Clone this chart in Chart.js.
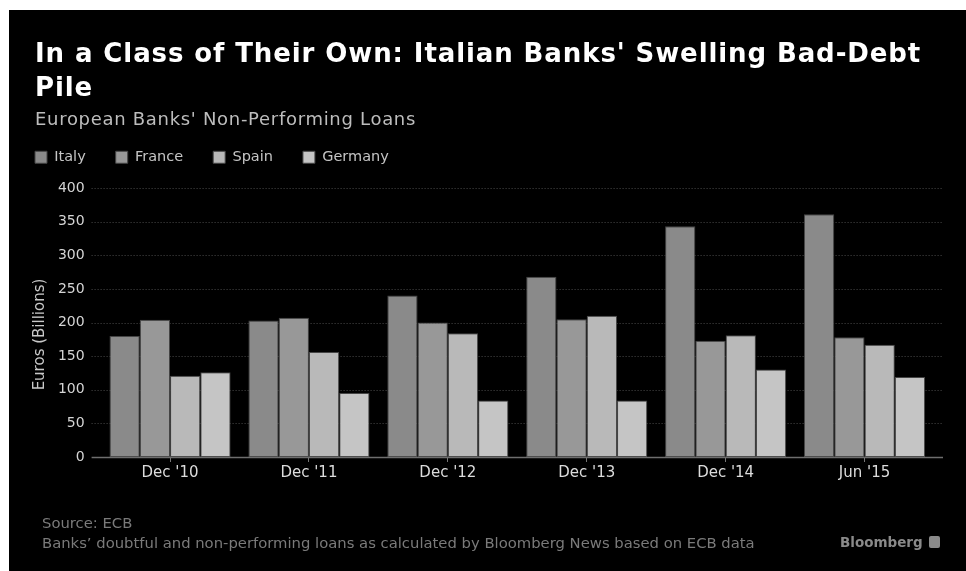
<!DOCTYPE html>
<html>
<head>
<meta charset="utf-8">
<script src="https://cdn.jsdelivr.net/npm/chart.js@4.4.1/dist/chart.umd.min.js"></script>
<style>
  html, body { margin: 0; padding: 0; background: #fff; }
  #wrap { position: relative; width: 966px; height: 571px; overflow: hidden; }
  #panel { position: absolute; left: 9px; top: 10px; right: 0; bottom: 0; background: #000; }
  #chart { position: absolute; left: 0; top: 0; }
  .txt { position: absolute; white-space: nowrap; font-family: "DejaVu Sans", sans-serif; }
  #title { left: 35px; top: 36px; font-size: 26px; font-weight: bold; color: #fff; line-height: 34px; letter-spacing: 0.9px; }
  #subtitle { left: 35px; top: 108px; font-size: 18px; color: #bdbdbd; line-height: 22px; letter-spacing: 0.7px; }
  #source { left: 42px; top: 513px; font-size: 14.8px; color: #7a7a7a; line-height: 20px; }
  #brand { left: 840px; top: 533px; font-size: 13.5px; font-weight: bold; color: #8a8a8a; line-height: 18px; }
  #brand span { display: inline-block; width: 11px; height: 12px; background: #8a8a8a; margin-left: 6px; vertical-align: -1px; border-radius: 2px; }
</style>
</head>
<body>
<div id="wrap">
  <div id="panel"></div>
  <canvas id="chart" width="966" height="571"></canvas>
  <div class="txt" id="title">In a Class of Their Own: Italian Banks' Swelling Bad-Debt<br>Pile</div>
  <div class="txt" id="subtitle">European Banks' Non-Performing Loans</div>
  <div class="txt" id="source">Source: ECB<br>Banks’ doubtful and non-performing loans as calculated by Bloomberg News based on ECB data</div>
  <div class="txt" id="brand">Bloomberg<span></span></div>
</div>
<script>
// Non-performing loans, billions of euros
const categories = ["Dec '10", "Dec '11", "Dec '12", "Dec '13", "Dec '14", "Jun '15"];
const italy   = [180, 203, 240, 268, 343, 361];
const france  = [204, 207, 200, 205, 173, 178];
const spain   = [121, 156, 184, 210, 181, 167];
const germany = [126,  95,  84,  84, 130, 119];
const yTicks  = [0, 50, 100, 150, 200, 250, 300, 350, 400];
const yTitle  = "Euros (Billions)";

const FONT = '"DejaVu Sans", sans-serif';

// Fixed legend height so the plot starts below it at a set distance
const legendHeight = {
  id: 'legendHeight',
  afterInit(chart) {
    const lg = chart.legend;
    if (!lg) return;
    const fit = lg.fit.bind(lg);
    lg.fit = function () { fit(); this.height = 68; };
  }
};

// Dotted grid, baseline and rotated axis title
const gridAndTitle = {
  id: 'gridAndTitle',
  beforeDatasetsDraw(chart) {
    const { ctx, chartArea, scales } = chart;
    const y = scales.y;
    const x0 = chartArea.left - 9, x1 = chartArea.right + 9;
    ctx.save();
    ctx.lineWidth = 1;
    ctx.strokeStyle = '#4a4a4a';
    ctx.setLineDash([1, 2]);
    yTicks.forEach(v => {
      if (v === 0) return;
      const py = Math.round(y.getPixelForValue(v)) + 0.5;
      ctx.beginPath(); ctx.moveTo(x0, py); ctx.lineTo(x1, py); ctx.stroke();
    });
    ctx.restore();
  },
  afterDatasetsDraw(chart) {
    const { ctx, chartArea, scales } = chart;
    const y = scales.y;
    ctx.save();
    ctx.strokeStyle = '#6e6e6e';
    ctx.lineWidth = 1.5;
    const py = y.getPixelForValue(0) + 0.5;
    ctx.beginPath(); ctx.moveTo(chartArea.left - 9, py); ctx.lineTo(chartArea.right + 9, py); ctx.stroke();
    ctx.translate(40.5, (chartArea.top + chartArea.bottom) / 2 + 12);
    ctx.rotate(-Math.PI / 2);
    ctx.fillStyle = '#c8c8c8';
    ctx.font = '15px ' + FONT;
    ctx.textAlign = 'center';
    ctx.textBaseline = 'middle';
    ctx.fillText(yTitle, 0, 0);
    ctx.restore();
  }
};

const barStyle = { borderColor: '#454545', borderWidth: 1, borderSkipped: false };

new Chart(document.getElementById('chart'), {
  type: 'bar',
  data: {
    labels: categories,
    datasets: [
      { label: 'Italy',   data: italy,   backgroundColor: '#8a8a8a', ...barStyle },
      { label: 'France',  data: france,  backgroundColor: '#989898', ...barStyle },
      { label: 'Spain',   data: spain,   backgroundColor: '#b9b9b9', ...barStyle },
      { label: 'Germany', data: germany, backgroundColor: '#c5c5c5', ...barStyle }
    ]
  },
  options: {
    responsive: false,
    animation: false,
    devicePixelRatio: 1,
    layout: { padding: { left: 5, right: 32, top: 120, bottom: 84 } },
    datasets: { bar: { categoryPercentage: 0.872, barPercentage: 1.0 } },
    plugins: {
      legend: {
        position: 'top',
        align: 'start',
        labels: {
          color: '#c4c4c4',
          font: { family: FONT, size: 14.5 },
          boxWidth: 12,
          boxHeight: 12,
          padding: 30
        }
      },
      tooltip: { enabled: false }
    },
    scales: {
      x: {
        afterFit(s) { s.height = 30; },
        border: { display: false },
        grid: { display: true, drawOnChartArea: false, drawTicks: true, tickLength: 5, color: '#777', offset: false },
        ticks: { color: '#dcdcdc', font: { family: FONT, size: 15 }, padding: 2, maxRotation: 0 }
      },
      y: {
        min: 0, max: 400,
        afterFit(s) { s.width = 95.6; },
        afterBuildTicks(s) { s.ticks = yTicks.map(v => ({ value: v })); },
        border: { display: false },
        grid: { display: false, drawTicks: false },
        ticks: { color: '#d4d4d4', font: { family: FONT, size: 14 }, padding: 16 }
      }
    }
  },
  plugins: [legendHeight, gridAndTitle]
});
</script>
</body>
</html>
